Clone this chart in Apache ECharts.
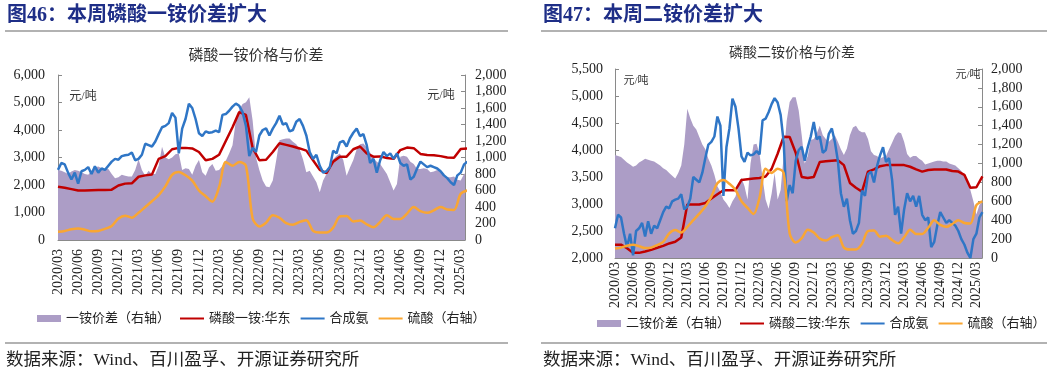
<!DOCTYPE html>
<html><head><meta charset="utf-8">
<script src="https://cdn.jsdelivr.net/npm/echarts@6/dist/echarts.min.js"></script>
<style>html,body{margin:0;padding:0;background:#fff;}#c{width:1057px;height:374px;}</style>
</head><body><div id="c"></div>
<script>
// x positions: months since 2020/03 (semi-monthly or monthly steps)
const xTickLabels = ['2020/03','2020/06','2020/09','2020/12','2021/03','2021/06','2021/09','2021/12','2022/03','2022/06','2022/09','2022/12','2023/03','2023/06','2023/09','2023/12','2024/03','2024/06','2024/09','2024/12','2025/03'];

// 合成氨 (semi-monthly, 元/吨)
const ammonia = [2550,2800,2750,2450,2200,2450,2050,2500,2550,2650,2400,2680,2450,2600,2550,2700,2850,2950,2920,3050,
3080,3100,3180,2900,2950,3100,3500,3450,3400,3580,3850,4100,4150,4250,4620,4450,3150,4050,4400,4950,
4800,4400,3880,3780,3950,3900,3920,3980,3920,4550,4580,4700,4850,4960,4880,4650,4150,3050,3350,3200,
3800,4000,4060,3800,4050,4250,4520,4200,4250,3950,4000,4300,4400,4150,3800,3200,2950,3100,2700,2450,
2500,2650,3250,3150,3550,3600,3400,3700,3900,4050,3780,3850,3450,2800,2950,2450,2900,3200,3050,3150,
2950,3150,2800,2700,2750,2200,2300,2600,2850,2750,2650,2700,2650,2600,2500,2350,2250,2100,2000,2350,
2450,2750,2850];
// 硫酸 (monthly, 元/吨, right axis)
const sulfuric = [100,110,130,140,125,105,110,135,170,260,295,270,330,400,470,545,650,790,825,785,
720,600,530,465,640,945,900,945,900,260,165,210,300,270,205,185,220,240,110,90,
90,150,285,290,225,235,190,155,220,300,255,255,320,400,350,330,360,400,370,365,
560,600];
// 磷酸一铵:华东 (monthly)
const mapPrice = [1940,1900,1850,1800,1800,1810,1820,1820,1830,1980,2050,2060,2300,2350,2380,2950,3050,3300,3350,3350,
3330,3200,2900,2950,3100,3600,4100,4650,4550,3350,2900,2920,3200,3520,3460,3400,3330,3250,2900,2550,
2430,2850,3030,3030,3300,3400,3150,3030,3040,2980,2950,3270,3360,3340,3130,3090,3080,3050,3000,2990,
3310,3330];
// 一铵价差 (semi-monthly, right axis)
const mapSpread = [850,840,820,800,830,850,840,820,800,790,840,880,890,870,860,860,800,750,760,790,
780,770,770,850,980,850,780,840,800,800,900,1130,1000,980,1000,1040,1050,850,870,860,
790,900,970,820,780,880,920,840,850,900,960,1050,1150,1450,1580,1650,1670,1730,1450,1000,
850,720,650,640,720,960,1210,1220,1230,1230,1190,1160,1100,980,820,840,770,700,580,720,
800,890,980,1020,1050,970,780,880,970,1100,1160,1170,1120,1060,990,950,920,860,800,700,
600,680,1010,1020,1010,950,920,860,860,870,860,820,830,850,820,790,760,760,770,730,
720,800,820];
// 磷酸二铵:华东 (monthly)
const dapPrice = [2247,2247,2180,2095,2095,2120,2150,2190,2225,2270,2300,2380,2990,2990,2990,3020,3100,3180,3255,3255,
3255,3445,3460,3470,3480,3510,3650,3930,4245,4240,3950,3500,3480,3500,3780,3790,3800,3810,3720,3390,
3300,3230,3600,3640,3700,3720,3720,3720,3720,3690,3640,3600,3630,3640,3640,3640,3610,3600,3540,3300,
3310,3510];
// 二铵价差 (semi-monthly, right axis)
const dapSpread = [1090,1080,1070,1040,1010,990,965,980,1010,1030,1050,1040,1030,1020,1000,980,950,930,900,870,
840,900,980,1200,1580,1480,1400,1360,1280,1200,1150,1050,980,880,760,700,620,580,530,600,
650,760,850,760,620,1000,1200,1210,1100,850,620,520,680,900,620,720,1080,1450,1650,1700,
1700,1560,1300,1000,1080,1250,1260,1320,1400,1300,1260,1230,1260,1300,1230,1150,1090,1160,1300,1380,
1400,1350,1330,1330,1260,1130,1090,1080,1050,1070,1080,1150,1220,1290,1330,1320,1230,1100,1060,1080,
1080,1050,1030,990,1000,1010,1020,1030,1030,1020,1020,1000,990,980,950,920,870,830,720,600,
460,560,600];

const PURPLE = '#AC9DC6', RED = '#C00000', BLUE = '#2F76C6', ORANGE = '#F9A633';
const SERIF = "'Liberation Serif','Noto Sans CJK SC',serif";
const CJK = "'Liberation Serif','Noto Sans CJK SC',sans-serif";

function pairs(arr, step){ return arr.map((v,i)=>[i*step, v]); }
function thousands(v){ return String(v).replace(/\B(?=(\d{3})+(?!\d))/g, ','); }
function monthLabel(v){
  const r = Math.round(v);
  if (Math.abs(v - r) > 1e-6 || r % 3 !== 0) return '';
  return xTickLabels[r/3] || '';
}

function xAxis(gridIndex, max, margin){
  return {type:'value', gridIndex, min:0, max, interval:3,
    axisLine:{show:true, onZero:false, lineStyle:{color:'#8a8a8a', width:1}},
    axisTick:{show:true, inside:true, length:4, lineStyle:{color:'#8a8a8a'}},
    splitLine:{show:false},
    axisLabel:{rotate:90, margin, fontFamily:SERIF, fontSize:14, color:'#222', formatter:monthLabel, showMaxLabel:false}};
}
function yAxis(gridIndex, pos, min, max, interval, margin){
  return {type:'value', gridIndex, position:pos, min, max, interval,
    axisLine:{show:true, lineStyle:{color:'#8a8a8a', width:1}},
    axisTick:{show:true, inside:true, length:4, lineStyle:{color:'#8a8a8a'}},
    splitLine:{show:false},
    axisLabel:{margin, fontFamily:SERIF, fontSize:14, color:'#222', formatter:thousands}};
}
function lineS(name, xi, yi, data, color, extra){
  return Object.assign({name, type:'line', xAxisIndex:xi, yAxisIndex:yi, data, symbol:'none', showSymbol:false,
    color, lineStyle:{color, width:2.5}, itemStyle:{color}, animation:false}, extra||{});
}
function areaS(name, xi, yi, data){
  return {name, type:'line', xAxisIndex:xi, yAxisIndex:yi, data, symbol:'none', showSymbol:false,
    color:PURPLE, itemStyle:{color:PURPLE}, lineStyle:{width:0, color:PURPLE}, areaStyle:{color:PURPLE, opacity:1}, z:1, animation:false};
}
function txt(x, y, text, size, opts){
  return {type:'text', x, y, style:Object.assign({text, fontSize:size, fontFamily:CJK, fill:'#222', textVerticalAlign:'middle'}, opts||{})};
}
function hline(x1, x2, y){
  return {type:'line', shape:{x1, y1:y, x2, y2:y}, style:{stroke:'#666', lineWidth:1.2}};
}
function legendCfg(left, top, names){
  const lineItem = n => ({name:n, itemStyle:{opacity:0, borderWidth:0}});
  return {left, top, padding:0, itemWidth:24, itemHeight:7, itemGap:9,
    textStyle:{fontFamily:CJK, fontSize:13, color:'#222'}, selectedMode:false,
    data:[{name:names[0], icon:'rect'}, lineItem(names[1]), lineItem(names[2]), lineItem(names[3])]};
}

const chart = echarts.init(document.getElementById('c'), null, {renderer:'canvas'});
chart.setOption({
  animation:false,
  backgroundColor:'#fff',
  grid:[
    {left:58, top:75, width:407, height:165, outerBoundsMode:'none', containLabel:false},
    {left:615, top:69, width:367, height:189, outerBoundsMode:'none', containLabel:false}
  ],
  xAxis:[xAxis(0, 60.64, 9), xAxis(1, 60.93, 4)],
  yAxis:[
    yAxis(0,'left',0,6000,1000,13), yAxis(0,'right',0,2000,200,10),
    yAxis(1,'left',2000,5500,500,12), yAxis(1,'right',0,2000,200,9)
  ],
  legend:[
    legendCfg(37, 312, ['一铵价差（右轴）','磷酸一铵:华东','合成氨','硫酸（右轴）']),
    legendCfg(597, 317, ['二铵价差（右轴）','磷酸二铵:华东','合成氨','硫酸（右轴）'])
  ],
  series:[
    areaS('一铵价差（右轴）', 0, 1, pairs(mapSpread, 0.5)),
    lineS('磷酸一铵:华东', 0, 0, pairs(mapPrice, 1), RED),
    lineS('合成氨', 0, 0, pairs(ammonia, 0.5), BLUE),
    lineS('硫酸（右轴）', 0, 1, pairs(sulfuric, 1), ORANGE, {smooth:0.3}),
    areaS('二铵价差（右轴）', 1, 3, pairs(dapSpread, 0.5)),
    lineS('磷酸二铵:华东', 1, 2, pairs(dapPrice, 1), RED),
    lineS('合成氨', 1, 2, pairs(ammonia, 0.5), BLUE),
    lineS('硫酸（右轴）', 1, 3, pairs(sulfuric, 1), ORANGE, {smooth:0.3})
  ],
  graphic:[
    txt(7, 16, '图46：本周磷酸一铵价差扩大', 20, {fontWeight:'bold', fill:'#1E2E87'}),
    hline(5, 508, 31),
    txt(256, 56, '磷酸一铵价格与价差', 15, {textAlign:'center', fill:'#333'}),
    txt(83, 97, '元/吨', 12, {textAlign:'center', fill:'#333'}),
    txt(441, 96, '元/吨', 12, {textAlign:'center', fill:'#333'}),
    hline(5, 508, 343),
    txt(6, 360, '数据来源：Wind、百川盈孚、开源证券研究所', 17.5, {fill:'#222'}),

    txt(543, 16, '图47：本周二铵价差扩大', 20, {fontWeight:'bold', fill:'#1E2E87'}),
    hline(541, 1047, 31),
    txt(792, 53, '磷酸二铵价格与价差', 14, {textAlign:'center', fill:'#333'}),
    txt(636, 81, '元/吨', 11, {textAlign:'center', fill:'#333'}),
    txt(968, 75, '元/吨', 11, {textAlign:'center', fill:'#333'}),
    hline(541, 1047, 343),
    txt(543, 360, '数据来源：Wind、百川盈孚、开源证券研究所', 17.5, {fill:'#222'})
  ]
});
</script>
</body></html>
